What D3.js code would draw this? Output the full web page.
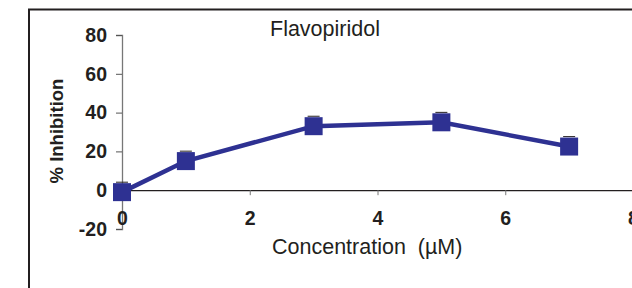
<!DOCTYPE html>
<meta charset="utf-8">
<style>
body { margin: 0; background: #fff; }
text { font-family: Arial, "Liberation Sans", sans-serif; fill: #231f20; white-space: pre; }
</style>
<svg width="632" height="288"></svg>
<script src="https://d3js.org/d3.v7.min.js"></script>
<script>

// data
var conc = [0, 1, 3, 5, 7];
var inhibition = [-1, 15, 33, 35, 22.5];
var errs = [1, 1, 1, 1, 1];
var xTicks = [0, 2, 4, 6, 8];
var yTicks = [-20, 0, 20, 40, 60, 80];

var svg = d3.select("svg");

var x = d3.scaleLinear().domain([0, 8]).range([122, 633]),
    y = d3.scaleLinear().domain([-20, 80]).range([229, 35]);

var plain = function(d) { return String(d); };

// frame
svg.append("path")
    .attr("d", "M29,300 V9.5 H640")
    .attr("fill", "none")
    .attr("stroke", "#231f20")
    .attr("stroke-width", 2);

// y axis
var ya = svg.append("g")
    .attr("transform", "translate(" + x(0) + ",0)")
    .call(d3.axisLeft(y).tickValues(yTicks).tickFormat(plain).tickSize(6).tickPadding(9));
ya.attr("font-size", 19.5).attr("font-weight", "bold");
ya.select(".domain").attr("stroke", "#777").attr("stroke-width", 1.3);
ya.selectAll(".tick line").attr("stroke", "#555");
ya.selectAll(".tick text").attr("fill", "#231f20");

// x axis at zero
var xa = svg.append("g")
    .attr("transform", "translate(0," + y(0) + ")")
    .call(d3.axisBottom(x).tickValues(xTicks).tickFormat(plain).tickSize(5).tickSizeOuter(0).tickPadding(16));
xa.attr("font-size", 19.5).attr("font-weight", "bold");
xa.select(".domain").attr("stroke", "#231f20").attr("stroke-width", 1.3);
xa.selectAll(".tick line").attr("stroke", "#777");
xa.selectAll(".tick text").attr("fill", "#231f20");

// line
var line = d3.line()
    .x(function(d, i) { return x(conc[i]); })
    .y(function(d) { return y(d); });

svg.append("path")
    .datum(inhibition)
    .attr("fill", "none")
    .attr("stroke", "#2e3192")
    .attr("stroke-width", 4.5)
    .attr("d", line);

// small error caps
svg.selectAll(".err")
    .data(inhibition)
  .enter().append("line")
    .attr("class", "err")
    .attr("x1", function(d, i) { return x(conc[i]) - 6; })
    .attr("x2", function(d, i) { return x(conc[i]) + 6; })
    .attr("y1", function(d, i) { return y(d + errs[i]) - 8; })
    .attr("y2", function(d, i) { return y(d + errs[i]) - 8; })
    .attr("stroke", "#231f20")
    .attr("stroke-width", 1);

// markers
svg.selectAll(".pt")
    .data(inhibition)
  .enter().append("rect")
    .attr("class", "pt")
    .attr("x", function(d, i) { return x(conc[i]) - 9; })
    .attr("y", function(d) { return y(d) - 9; })
    .attr("width", 18)
    .attr("height", 18)
    .attr("fill", "#2e3192");

svg.append("text")
    .attr("x", 270)
    .attr("y", 36)
    .style("font-size", "21.5px")
    .text("Flavopiridol");

svg.append("text")
    .attr("x", 272)
    .attr("y", 254)
    .style("font-size", "21.5px")
    .text("Concentration  (\u00b5M)");

svg.append("text")
    .attr("transform", "translate(63,131) rotate(-90)")
    .attr("text-anchor", "middle")
    .attr("font-weight", "bold")
    .style("font-size", "18.5px")
    .text("% Inhibition");

</script>
